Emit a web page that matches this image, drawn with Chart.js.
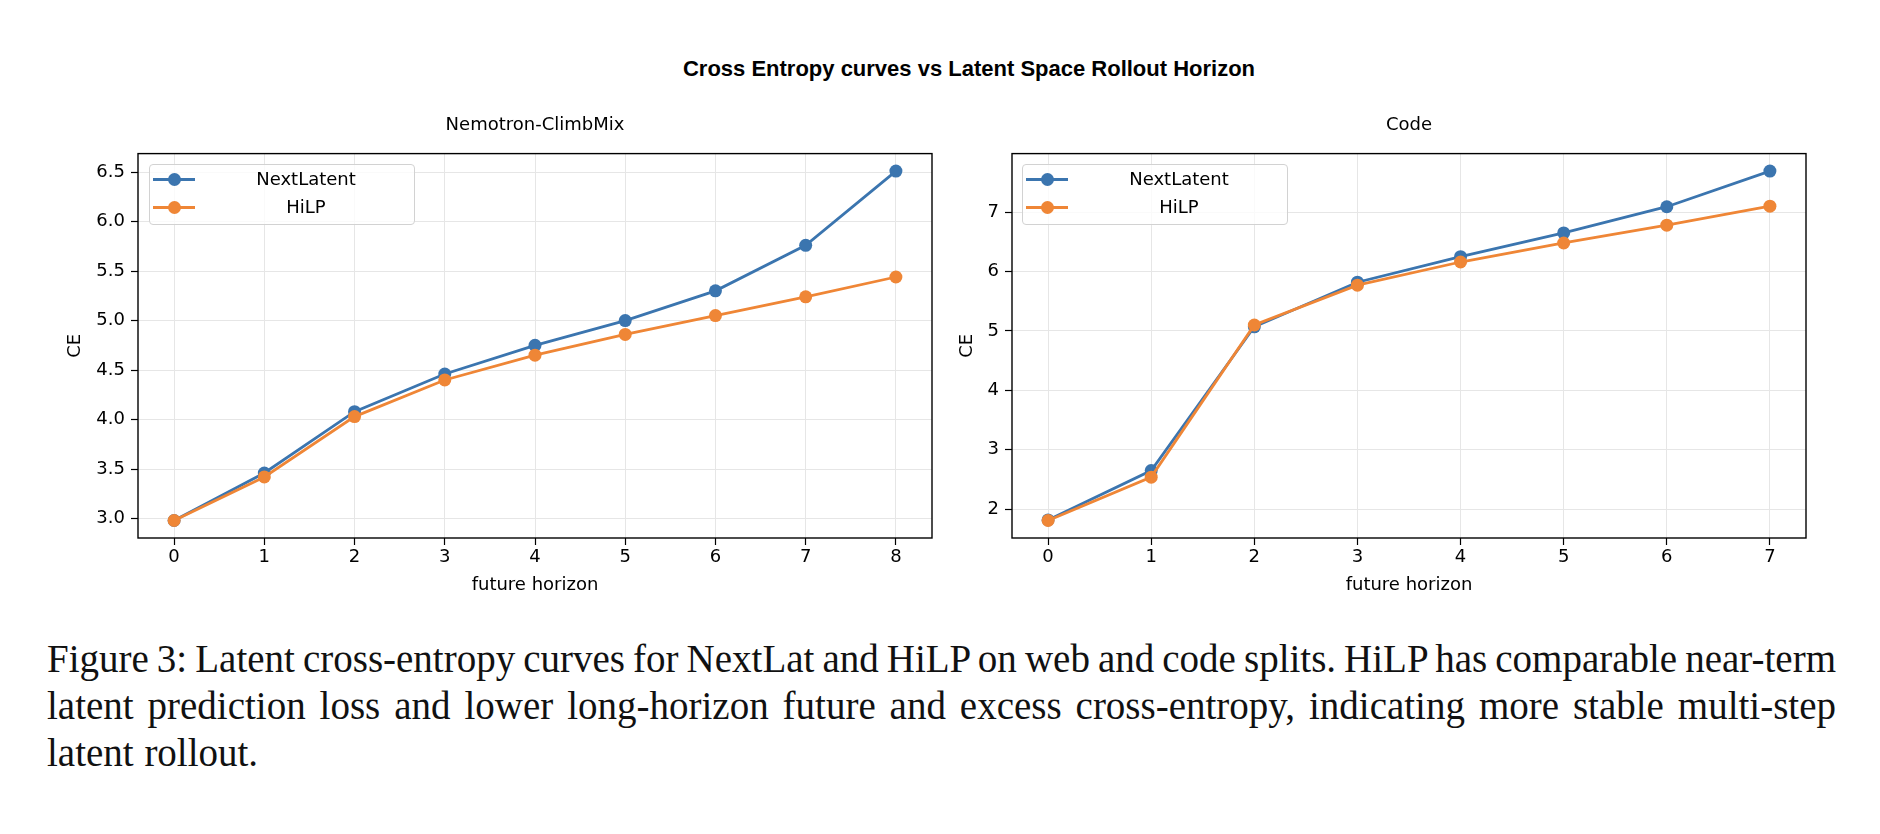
<!DOCTYPE html>
<html>
<head>
<meta charset="utf-8">
<title>Cross Entropy curves vs Latent Space Rollout Horizon</title>
<script src="https://cdn.jsdelivr.net/npm/chart.js@4.4.1/dist/chart.umd.min.js"></script>
<style>
  html, body { margin: 0; padding: 0; background: #fff; }
  body { width: 1880px; height: 834px; position: relative; overflow: hidden; }
  #suptitle {
    position: absolute; left: 569px; top: 56px; width: 800px;
    text-align: center; font: bold 22px "Liberation Sans", Arial, sans-serif;
    line-height: 26px; color: #000;
  }
  .panel { position: absolute; top: 95px; }
  .legend {
    position: absolute; width: 264px; height: 59px;
    border: 1px solid #d2d2d2; border-radius: 4px;
    background: rgba(255, 255, 255, 0.8);
  }
  .legend .row { position: absolute; left: 0; right: 0; height: 22px; }
  .legend .handle { position: absolute; left: 3px; top: 10px; width: 42px; height: 2.8px; }
  .legend .dot { position: absolute; left: 18px; top: 5px; width: 13px; height: 13px; border-radius: 50%; }
  .legend p {
    position: absolute; left: 48px; right: 0; top: 0; margin: 0;
    text-align: center; font: 18px "DejaVu Sans", sans-serif; line-height: 22px; color: #000;
  }
  #caption {
    position: absolute; left: 47px; top: 635px; width: 1789px;
    font: 39px "Liberation Serif", "Times New Roman", serif; line-height: 47px; color: #111;
    word-spacing: -4px;
  }
  #caption div { text-align: justify; text-align-last: justify; white-space: nowrap; }
  #caption div.last { text-align-last: left; word-spacing: 1px; }
</style>
</head>
<body>
<div id="suptitle">Cross Entropy curves vs Latent Space Rollout Horizon</div>

<div class="panel" style="left:40px;"><canvas id="climb" width="920" height="510"></canvas></div>
<div class="legend" id="climbLegend" style="left:149px; top:164px;"></div>

<div class="panel" style="left:940px;"><canvas id="code" width="940" height="510"></canvas></div>
<div class="legend" id="codeLegend" style="left:1022px; top:164px;"></div>

<div id="caption">
  <div>Figure 3: Latent cross-entropy curves for NextLat and HiLP on web and code splits. HiLP has comparable near-term</div>
  <div>latent prediction loss and lower long-horizon future and excess cross-entropy, indicating more stable multi-step</div>
  <div class="last">latent rollout.</div>
</div>

<script>
// data
const seriesNames = ["NextLatent", "HiLP"];
const seriesColors = ["#3b75af", "#ef8636"];

const climbHorizon = [0, 1, 2, 3, 4, 5, 6, 7, 8];
const climbNextLatent = [2.98, 3.46, 4.08, 4.46, 4.75, 5.00, 5.30, 5.76, 6.51];
const climbHiLP = [2.98, 3.42, 4.03, 4.40, 4.65, 4.86, 5.05, 5.24, 5.44];
const climbYTicks = [3.0, 3.5, 4.0, 4.5, 5.0, 5.5, 6.0, 6.5];

const codeHorizon = [0, 1, 2, 3, 4, 5, 6, 7];
const codeNextLatent = [1.82, 2.65, 5.07, 5.82, 6.25, 6.65, 7.09, 7.69];
const codeHiLP = [1.81, 2.54, 5.10, 5.77, 6.16, 6.48, 6.78, 7.10];
const codeYTicks = [2, 3, 4, 5, 6, 7];

Chart.defaults.font.family = "'DejaVu Sans', sans-serif";
Chart.defaults.font.size = 18;
Chart.defaults.color = "#000";

// black box around the plot area (matplotlib spines)
const framePlugin = {
  id: "frame",
  afterDraw(chart) {
    const { ctx, chartArea: a } = chart;
    ctx.save();
    ctx.strokeStyle = "#000";
    ctx.lineWidth = 1.4;
    ctx.strokeRect(a.left, a.top, a.right - a.left, a.bottom - a.top);
    ctx.restore();
  }
};

// 5% margins like matplotlib autoscale
function padRange(values) {
  const lo = Math.min(...values), hi = Math.max(...values);
  const m = (hi - lo) * 0.05;
  return [lo - m, hi + m];
}

function toPoints(xs, ys) {
  return xs.map((x, i) => ({ x: x, y: ys[i] }));
}

function makePanel(id, title, horizon, nextLatent, hilp, yTicks, yFmt, geo) {
  const [xMin, xMax] = padRange(horizon);
  const [yMin, yMax] = padRange(nextLatent.concat(hilp));
  const ctx = document.getElementById(id).getContext("2d");

  return new Chart(ctx, {
    type: "line",
    data: {
      datasets: [
        {
          label: seriesNames[0],
          data: toPoints(horizon, nextLatent),
          borderColor: seriesColors[0],
          backgroundColor: seriesColors[0],
          borderWidth: 2.8,
          pointRadius: 6.5,
          pointBorderWidth: 0,
          tension: 0,
          order: 1
        },
        {
          label: seriesNames[1],
          data: toPoints(horizon, hilp),
          borderColor: seriesColors[1],
          backgroundColor: seriesColors[1],
          borderWidth: 2.8,
          pointRadius: 6.5,
          pointBorderWidth: 0,
          tension: 0,
          order: 0
        }
      ]
    },
    options: {
      responsive: false,
      animation: false,
      layout: { padding: { left: 0, right: geo.padRight, top: 0, bottom: 0 } },
      plugins: {
        legend: { display: false },
        tooltip: { enabled: false },
        title: {
          display: true,
          text: title,
          fullSize: false,
          color: "#000",
          font: { size: 18, weight: "normal" },
          padding: { top: 20, bottom: 17 }
        }
      },
      scales: {
        x: {
          type: "linear",
          min: xMin,
          max: xMax,
          afterBuildTicks: (s) => { s.ticks = horizon.map((v) => ({ value: v })); },
          afterFit: (s) => { s.height = 67; },
          ticks: { color: "#000", padding: 2, maxRotation: 0, autoSkip: false },
          grid: { color: "#e6e6e6", lineWidth: 1, tickLength: 7, tickColor: "#000", tickWidth: 1.2 },
          border: { display: false },
          title: { display: true, text: "future horizon", color: "#000", padding: { top: 0, bottom: 9 } }
        },
        y: {
          min: yMin,
          max: yMax,
          afterBuildTicks: (s) => { s.ticks = yTicks.map((v) => ({ value: v })); },
          afterFit: (s) => { s.width = geo.yWidth; },
          ticks: { color: "#000", padding: 6, callback: yFmt },
          grid: { color: "#e6e6e6", lineWidth: 1, tickLength: 7, tickColor: "#000", tickWidth: 1.2 },
          border: { display: false },
          title: { display: true, text: "CE", color: "#000", padding: { top: geo.ceOffset, bottom: 0 } }
        }
      }
    },
    plugins: [framePlugin]
  });
}

// html legend, built from the chart's datasets
function generateLegend(chart, boxId) {
  const box = document.getElementById(boxId);
  chart.data.datasets.forEach((ds, index) => {
    const row = document.createElement("div");
    row.className = "row";
    row.style.top = (3 + index * 28) + "px";

    const handle = document.createElement("span");
    handle.className = "handle";
    handle.style.backgroundColor = ds.borderColor;

    const dot = document.createElement("span");
    dot.className = "dot";
    dot.style.backgroundColor = ds.backgroundColor;

    const p = document.createElement("p");
    p.textContent = ds.label;

    row.appendChild(handle);
    row.appendChild(dot);
    row.appendChild(p);
    box.appendChild(row);
  });
}

const climbChart = makePanel("climb", "Nemotron-ClimbMix", climbHorizon, climbNextLatent, climbHiLP,
  climbYTicks, (v) => v.toFixed(1), { yWidth: 98, padRight: 28, ceOffset: 25 });
const codeChart = makePanel("code", "Code", codeHorizon, codeNextLatent, codeHiLP,
  codeYTicks, (v) => String(v), { yWidth: 72, padRight: 74, ceOffset: 17 });

generateLegend(climbChart, "climbLegend");
generateLegend(codeChart, "codeLegend");
</script>
</body>
</html>
